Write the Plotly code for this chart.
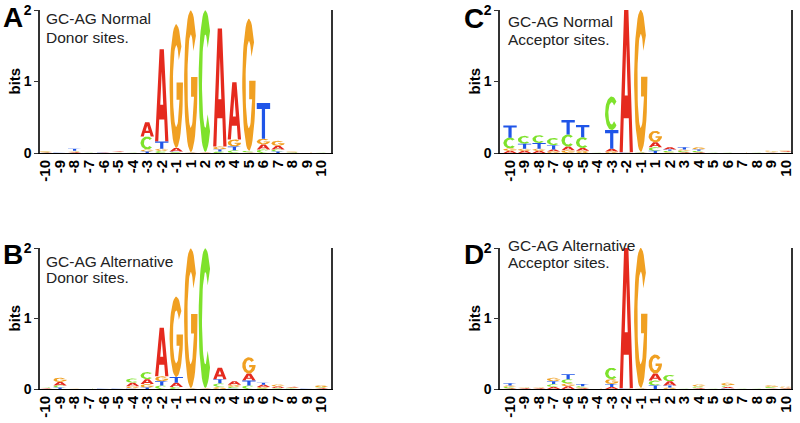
import numpy as np
import plotly.graph_objects as go

# positions around the splice site (no position 0)
positions = [-10, -9, -8, -7, -6, -5, -4, -3, -2, -1, 1, 2, 3, 4, 5, 6, 7, 8, 9, 10]
tick_text = [str(p) for p in positions]

# information content (bits) per letter, GC-AG normal donor
nd_A = [0.005, 0.003, 0.01, 0.003, 0.004, 0.008, 0.003, 0.20, 1.29, 0.05, 0.005, 0.005, 1.65, 0.80, 0.005, 0.07, 0.05, 0.005, 0.002, 0.003]
nd_C = [0.008, 0.003, 0.01, 0.003, 0.003, 0.004, 0.003, 0.18, 0.03, 0.01, 0.005, 1.98, 0.02, 0.04, 0.02, 0.05, 0.03, 0.01, 0.002, 0.003]
nd_G = [0.01, 0.003, 0.01, 0.003, 0.003, 0.005, 0.003, 0.03, 0.03, 1.73, 1.98, 0.005, 0.04, 0.10, 1.85, 0.08, 0.07, 0.01, 0.002, 0.003]
nd_T = [0.004, 0.002, 0.03, 0.004, 0.002, 0.004, 0.003, 0.02, 0.10, 0.01, 0.005, 0.005, 0.03, 0.05, 0.005, 0.50, 0.02, 0.01, 0.002, 0.004]

# GC-AG normal acceptor
na_A = [0.03, 0.03, 0.03, 0.03, 0.05, 0.04, 0.003, 0.04, 1.99, 0.005, 0.07, 0.03, 0.01, 0.01, 0.003, 0.003, 0.002, 0.003, 0.005, 0.01]
na_C = [0.15, 0.11, 0.11, 0.10, 0.17, 0.15, 0.003, 0.47, 0.003, 0.005, 0.05, 0.02, 0.02, 0.02, 0.003, 0.003, 0.002, 0.003, 0.01, 0.008]
na_G = [0.035, 0.03, 0.03, 0.02, 0.04, 0.03, 0.003, 0.02, 0.003, 1.99, 0.16, 0.01, 0.02, 0.03, 0.003, 0.003, 0.002, 0.003, 0.015, 0.01]
na_T = [0.17, 0.07, 0.08, 0.06, 0.20, 0.17, 0.005, 0.26, 0.003, 0.003, 0.03, 0.02, 0.03, 0.02, 0.003, 0.003, 0.002, 0.003, 0.005, 0.005]

# GC-AG alternative donor
ad_A = [0.005, 0.05, 0.002, 0.002, 0.003, 0.003, 0.05, 0.07, 0.69, 0.06, 0.005, 0.005, 0.16, 0.05, 0.10, 0.03, 0.02, 0.01, 0.003, 0.01]
ad_C = [0.008, 0.03, 0.001, 0.002, 0.003, 0.003, 0.06, 0.10, 0.05, 0.03, 0.005, 1.98, 0.05, 0.02, 0.05, 0.01, 0.01, 0.008, 0.003, 0.01]
ad_G = [0.005, 0.06, 0.001, 0.001, 0.003, 0.003, 0.03, 0.05, 0.07, 1.14, 1.98, 0.005, 0.03, 0.03, 0.23, 0.02, 0.03, 0.008, 0.003, 0.03]
ad_T = [0.004, 0.02, 0.001, 0.001, 0.002, 0.002, 0.01, 0.02, 0.06, 0.08, 0.005, 0.005, 0.06, 0.01, 0.07, 0.03, 0.005, 0.005, 0.002, 0.005]

# GC-AG alternative acceptor
aa_A = [0.01, 0.01, 0.01, 0.03, 0.04, 0.01, 0.002, 0.03, 1.99, 0.005, 0.10, 0.06, 0.003, 0.01, 0.003, 0.02, 0.003, 0.003, 0.005, 0.01]
aa_C = [0.02, 0.01, 0.01, 0.04, 0.06, 0.02, 0.002, 0.16, 0.003, 0.005, 0.07, 0.09, 0.003, 0.02, 0.003, 0.02, 0.003, 0.003, 0.015, 0.005]
aa_G = [0.02, 0.01, 0.01, 0.05, 0.04, 0.01, 0.002, 0.07, 0.003, 1.99, 0.27, 0.02, 0.003, 0.03, 0.003, 0.04, 0.003, 0.003, 0.025, 0.015]
aa_T = [0.03, 0.01, 0.01, 0.04, 0.07, 0.03, 0.002, 0.04, 0.003, 0.003, 0.05, 0.03, 0.003, 0.005, 0.003, 0.01, 0.003, 0.003, 0.01, 0.003]

COLORS = {"A": "#e52a1e", "C": "#7ee22c", "G": "#f0a022", "T": "#1f55e8"}
LETTER_W = 0.92
W, H = 800, 423
FONT = "Liberation Sans"


def fx(px):
    return px / W


def fy(py):
    return (H - py) / H


def arc(cx, cy, rx, ry, a0, a1, n=40):
    t = np.radians(np.linspace(a0, a1, n))
    return list(cx + rx * np.cos(t)), list(cy + ry * np.sin(t))


def glyph(letter):
    # outline of a letter in a unit box
    if letter == "T":
        return ([0, 1, 1, 0.62, 0.62, 0.38, 0.38, 0],
                [1, 1, 0.83, 0.83, 0, 0, 0.83, 0.83])
    if letter == "A":
        return ([0, 0.34, 0.66, 1, 0.76, 0.69, 0.31, 0.24],
                [0, 1, 1, 0, 0, 0.24, 0.24, 0])
    if letter == "C":
        ox, oy = arc(0.5, 0.5, 0.5, 0.5, 45, 315)
        ix, iy = arc(0.5, 0.5, 0.25, 0.33, 315, 45)
        return ox + ix, oy + iy
    # G
    ox, oy = arc(0.5, 0.5, 0.5, 0.5, 40, 350)
    ix, iy = arc(0.5, 0.5, 0.25, 0.33, 330, 40)
    return (ox + [1.0, 0.52, 0.52, 0.74] + ix,
            oy + [0.53, 0.53, 0.39, 0.39] + iy)


A_HOLE = ([0.39, 0.61, 0.5], [0.4, 0.4, 0.76])

panels = [
    dict(key="A", lines=["GC-AG Normal", "Donor sites."], A=nd_A, C=nd_C, G=nd_G, T=nd_T,
         px=(40, 331), py=(10, 153), xr=(-0.38, 19.65), ty=(19, 37), ky=17.5, kx=12.5),
    dict(key="B", lines=["GC-AG Alternative", "Donor sites."], A=ad_A, C=ad_C, G=ad_G, T=ad_T,
         px=(40, 331), py=(248, 389), xr=(-0.38, 19.65), ty=(261, 277.5), ky=254, kx=12.5),
    dict(key="C", lines=["GC-AG Normal", "Acceptor sites."], A=na_A, C=na_C, G=na_G, T=na_T,
         px=(500, 791), py=(10, 153), xr=(-0.69, 19.34), ty=(21.5, 39), ky=18.5, kx=474),
    dict(key="D", lines=["GC-AG Alternative", "Acceptor sites."], A=aa_A, C=aa_C, G=aa_G, T=aa_T,
         px=(500, 791), py=(248, 389), xr=(-0.69, 19.34), ty=(246, 262.5), ky=254, kx=474),
]

fig = go.Figure()
annotations = []
for n, p in enumerate(panels, start=1):
    xa = "x" if n == 1 else f"x{n}"
    ya = "y" if n == 1 else f"y{n}"
    paths = {k: ([], []) for k in "ACGT"}
    holes = ([], [])
    for i in range(len(positions)):
        base = 0.0
        for letter in sorted("ACGT", key=lambda k: p[k][i]):
            h = p[letter][i]
            gx, gy = glyph(letter)
            paths[letter][0].extend([i - LETTER_W / 2 + LETTER_W * v for v in gx] + [None])
            paths[letter][1].extend([base + h * v for v in gy] + [None])
            if letter == "A":
                holes[0].extend([i - LETTER_W / 2 + LETTER_W * v for v in A_HOLE[0]] + [None])
                holes[1].extend([base + h * v for v in A_HOLE[1]] + [None])
            base += h
    for letter in "ACGT":
        fig.add_trace(go.Scatter(
            x=paths[letter][0], y=paths[letter][1], xaxis=xa, yaxis=ya,
            mode="lines", fill="toself", fillcolor=COLORS[letter],
            line=dict(width=0, color=COLORS[letter]), hoverinfo="skip", showlegend=False))
    fig.add_trace(go.Scatter(
        x=holes[0], y=holes[1], xaxis=xa, yaxis=ya, mode="lines", fill="toself",
        fillcolor="white", line=dict(width=0, color="white"), hoverinfo="skip", showlegend=False))

    x0, x1 = p["px"]
    y0, y1 = p["py"]
    fig.layout[f"xaxis{'' if n == 1 else n}"] = dict(
        domain=[fx(x0), fx(x1)], range=list(p["xr"]), anchor=ya, automargin=False,
        tickvals=list(range(len(positions))), ticktext=tick_text, tickangle=-90,
        showline=True, linecolor="black", linewidth=1, ticks="", showgrid=False,
        zeroline=False, tickfont=dict(family=FONT, size=15, color="black", weight="bold"))
    fig.layout[f"yaxis{'' if n == 1 else n}"] = dict(
        domain=[fy(y1), fy(y0)], range=[0, 2], anchor=xa, automargin=False,
        tickvals=[0, 1, 2], ticks="outside", ticklen=4, tickcolor="#333",
        showline=True, linecolor="#333", linewidth=1.5, mirror=True,
        showgrid=False, zeroline=False,
        tickfont=dict(family=FONT, size=14, color="black", weight="bold"))
    # "bits" axis label
    annotations.append(dict(
        text="bits", xref="paper", yref="paper", x=fx(x0 - 26), y=fy((y0 + y1) / 2),
        xanchor="center", yanchor="middle", textangle=-90, showarrow=False,
        font=dict(family=FONT, size=15, color="black", weight="bold")))
    annotations.append(dict(
        text=p["key"], xref="paper", yref="paper", x=fx(p["kx"]), y=fy(p["ky"]),
        xanchor="center", yanchor="middle", showarrow=False,
        font=dict(family=FONT, size=28, color="black", weight="bold")))
    tx = x0 + 4 if x0 < 400 else x0 + 6
    for line, cy in zip(p["lines"], p["ty"]):
        annotations.append(dict(
            text=line, xref="paper", yref="paper", x=fx(tx), y=fy(cy),
            xanchor="left", yanchor="middle", showarrow=False,
            font=dict(family=FONT, size=15.5, color="#222")))

fig.update_layout(
    width=W, height=H, margin=dict(l=0, r=0, t=0, b=0),
    paper_bgcolor="white", plot_bgcolor="white", annotations=annotations,
)
# drop the default page margin so the figure fills the window
fig.write_html("out.html", config={"displayModeBar": False},
               post_script="document.body.style.margin='0';")
